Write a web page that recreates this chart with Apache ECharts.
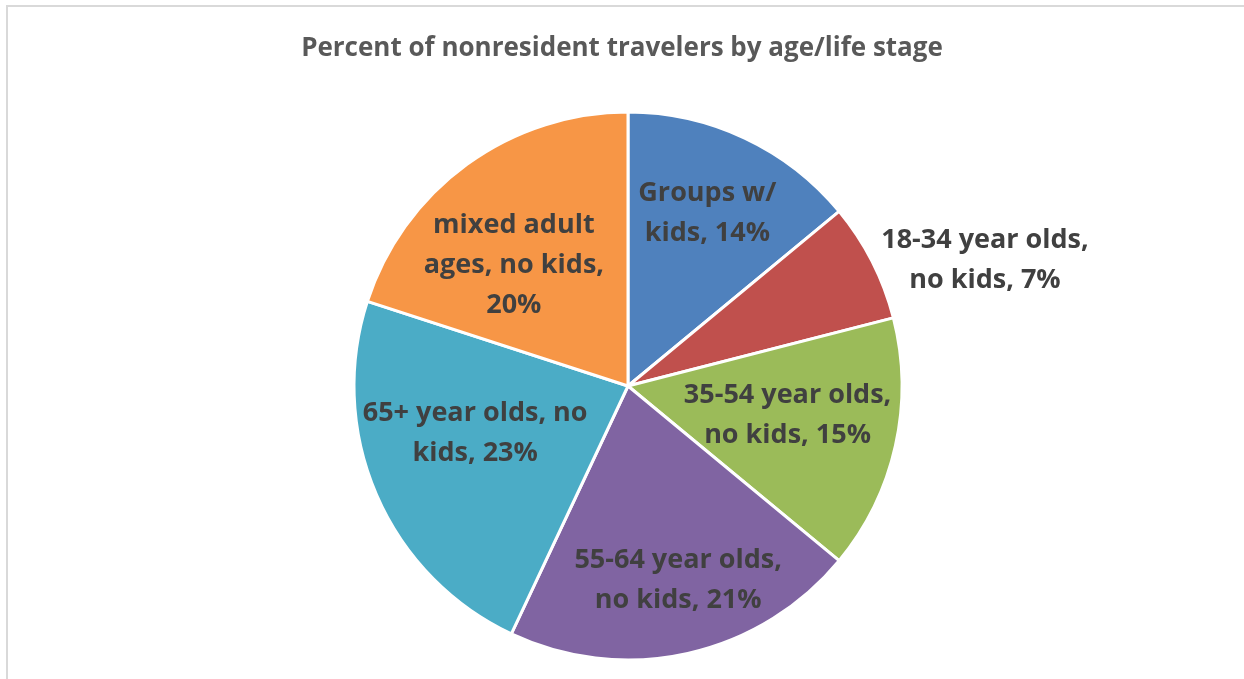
<!DOCTYPE html>
<html>
<head>
<meta charset="utf-8">
<script src="https://cdn.jsdelivr.net/npm/echarts@6/dist/echarts.min.js"></script>
<style>
html,body{margin:0;padding:0;background:#fff;}
#c{width:1244px;height:679px;}
</style>
</head>
<body>
<div id="c"></div>
<script>
const titleText = 'Percent of nonresident travelers by age/life stage';
const categories = ['Groups w/\nkids', '18-34 year olds,\nno kids', '35-54 year olds,\nno kids', '55-64 year olds,\nno kids', '65+ year olds, no\nkids', 'mixed adult\nages, no kids'];
const values = [14, 7, 15, 21, 23, 20];
const separators = [', ', ', ', ', ', ', ', ', ', ',\n'];
const colors = ['#4f81bd', '#c0504d', '#9bbb59', '#8064a2', '#4bacc6', '#f79646'];
const labelOffsets = [[1, -6], [193, -42], [-20, -11], [10, 15], [16, -26], [-6, 28]];

const chart = echarts.init(document.getElementById('c'), null, {renderer: 'canvas'});
const font = '"Open Sans", "Liberation Sans", sans-serif';

const mainData = categories.map((n, i) => ({name: n, value: values[i], itemStyle: {color: colors[i]}}));
const labelData = categories.map((n, i) => ({
  name: n, value: values[i],
  label: {offset: labelOffsets[i]}
}));

chart.setOption({
  animation: false,
  backgroundColor: '#ffffff',
  title: {
    text: titleText,
    left: 'center',
    top: 36,
    padding: 0,
    textStyle: {fontFamily: font, fontSize: 26, fontWeight: 'bold', color: '#595959'}
  },
  graphic: [{
    type: 'rect',
    shape: {x: 7, y: 6, width: 1300, height: 700},
    style: {fill: 'none', stroke: '#d9d9d9', lineWidth: 2},
    silent: true
  }],
  series: [
    {
      type: 'pie',
      center: [628, 386],
      radius: [0, 274],
      startAngle: 90,
      clockwise: true,
      silent: true,
      label: {show: false},
      labelLine: {show: false},
      itemStyle: {borderColor: '#ffffff', borderWidth: 3},
      data: mainData
    },
    {
      type: 'pie',
      center: [628, 386],
      radius: [88, 274],
      startAngle: 90,
      clockwise: true,
      silent: true,
      itemStyle: {color: 'rgba(0,0,0,0)'},
      labelLine: {show: false},
      label: {
        show: true,
        position: 'inside',
        fontFamily: font,
        fontSize: 27,
        fontWeight: 'bold',
        color: '#404040',
        lineHeight: 40,
        align: 'center',
        formatter: p => p.name + separators[p.dataIndex] + p.value + '%'
      },
      data: labelData
    }
  ]
});
</script>
</body>
</html>
